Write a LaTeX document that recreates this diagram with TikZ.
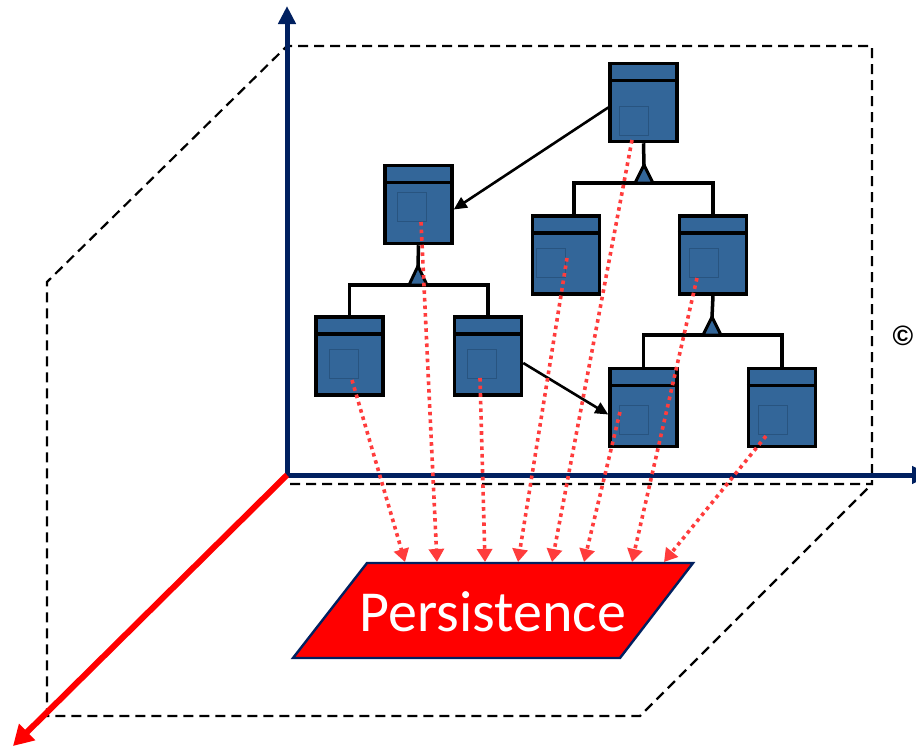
\documentclass[tikz,border=0pt]{standalone}
\usepackage{fontspec}
\usetikzlibrary{arrows.meta}
\newfontfamily\persfont{Carlito}
\newfontfamily\copyfont{Liberation Sans}

\definecolor{navy}{RGB}{0,32,96}
\definecolor{boxblue}{RGB}{51,102,153}
\definecolor{innerblue}{RGB}{40,84,128}
\definecolor{dotred}{RGB}{255,60,60}

\tikzset{
  panel/.style={black, line width=2.2pt, dash pattern=on 10pt off 6pt},
  axis/.style={navy, line width=5pt, -{Triangle[length=18pt,width=17pt]}},
  depthaxis/.style={red, line width=6pt, -{Triangle[length=20pt,width=22pt]}},
  cbox/.style={rectangle, draw=black, line width=3.5pt, fill=boxblue,
    minimum width=67pt, minimum height=78pt, inner sep=0pt},
  hdr/.style={black, line width=3.5pt},
  innersq/.style={rectangle, draw=innerblue, line width=1pt,
    minimum width=29pt, minimum height=29pt, inner sep=0pt},
  tree/.style={black, line width=3.5pt},
  inh/.style={draw=black, fill=boxblue, line width=3pt, line join=miter},
  conn/.style={black, line width=2.6pt, -{Triangle[length=13pt,width=12pt]}},
  persistarrow/.style={dotred, line width=3.6pt, dash pattern=on 3.6pt off 4pt,
    -{Triangle[length=13pt,width=15pt]}},
  persistshape/.style={fill=red, draw=navy, line width=2.4pt},
}

% class box: name, centre x, centre y, inner square corner x, y
\newcommand\classbox[5]{%
  \node[cbox] (#1) at (#2,#3) {};
  \draw[hdr] ([yshift=-18.5pt]#1.north west) -- ([yshift=-18.5pt]#1.north east);
  \node[innersq] (#1i) at (#4+14.5,#5+14.5) {};
}

\begin{document}
\begin{tikzpicture}[x=1pt,y=-1pt]
\useasboundingbox (0,0) rectangle (916,747);
\fill[white] (0,0) rectangle (916,747);

% dashed planes: back wall, side wall and floor
\draw[panel] (290,484) -- (872,484) -- (872,46) -- (287,46) -- (47,282)
  -- (47,716) -- (640,716) -- (872,484);

% axes
\coordinate (O) at (287,475);
\coordinate (Ytip) at (287,6);
\coordinate (Xtip) at (930,475);
\coordinate (Ztip) at (13,746);
\draw[axis] (O) -- (Ytip);
\draw[axis] (O) -- (Xtip);
\draw[depthaxis] (O) -- (Ztip);

% class boxes
\classbox{b1}{643.5}{102.5}{619}{106}
\classbox{b2}{418.5}{204.5}{397}{192}
\classbox{b3}{566}{255}{536}{248}
\classbox{b4}{713}{255}{689}{248}
\classbox{b5}{349.5}{356}{329}{349}
\classbox{b6}{488}{356}{467}{349}
\classbox{b7}{643.5}{407.5}{619}{405}
\classbox{b8}{782}{407.5}{758}{405}

% inheritance trees
\coordinate (a1) at (644,165);
\coordinate (bar1) at (644,183);
\coordinate (a2) at (418,266);
\coordinate (bar2) at (418,285);
\coordinate (a3) at (712,317);
\coordinate (bar3) at (712,335);

\draw[tree] (b1.south) -- (a1);
\draw[tree] ([xshift=8pt]b3.north) |- (bar1) -| (b4.north);
\draw[tree] (b2.south) -- (a2);
\draw[tree] (b5.north) |- (bar2) -| (b6.north);
\draw[tree] (b4.south) -- (a3);
\draw[tree] (b7.north) |- (bar3) -| (b8.north);

\draw[inh] (a1) -- ++(9,18) -- ++(-18,0) -- cycle;
\draw[inh] (a2) -- ++(9,19) -- ++(-18,0) -- cycle;
\draw[inh] (a3) -- ++(9,18) -- ++(-18,0) -- cycle;

% associations
\draw[conn] ([yshift=-5pt]b1.west) -- ([yshift=-5pt]b2.east);
\draw[conn] ([yshift=-7pt]b6.east) -- ([yshift=-7pt]b7.west);

% persistence store
\coordinate (p1) at (367,563);
\coordinate (p2) at (693,563);
\coordinate (p3) at (620,658);
\coordinate (p4) at (293,658);
\draw[persistshape] (p1) -- (p2) -- (p3) -- (p4) -- cycle;
\node[text=white, font=\persfont\fontsize{58}{58}\selectfont, inner sep=0pt]
  (store) at (493,612) {Persistence};

% objects flowing into persistence
\coordinate (s1) at (632,140);
\coordinate (s2) at (421,222);
\coordinate (s3) at (567,258);
\coordinate (s4) at (697,278);
\coordinate (s5) at (352,380);
\coordinate (s6) at (480,378);
\coordinate (s7) at (620,412);
\coordinate (s8) at (766,436);

\coordinate (e1) at (552,562);
\coordinate (e2) at (437,562);
\coordinate (e3) at (518,562);
\coordinate (e4) at (632,562);
\coordinate (e5) at (405,562);
\coordinate (e6) at (485,562);
\coordinate (e7) at (584,562);
\coordinate (e8) at (664,562);

\foreach \i in {1,...,8}{
  \draw[persistarrow] (s\i) -- (e\i);
}

% copyright mark at the right edge
\node[font=\copyfont\bfseries\fontsize{28}{28}\selectfont, inner sep=0pt]
  (copy) at (903,336) {©};
\end{tikzpicture}
\end{document}
